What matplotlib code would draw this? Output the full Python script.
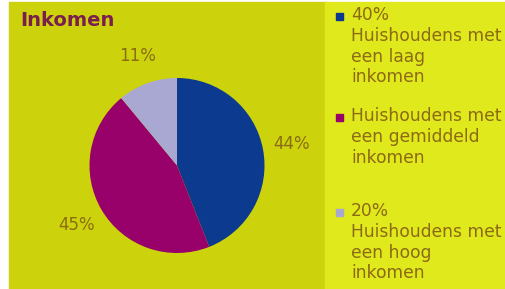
import matplotlib
matplotlib.use("Agg")
import matplotlib.pyplot as plt
from matplotlib.patches import Rectangle

# data
shares = [44, 45, 11]
colors = ["#0b3a8e", "#98006a", "#a9a8d2"]
legend_labels = [
    "40%\nHuishoudens met\neen laag\ninkomen",
    "Huishoudens met\neen gemiddeld\ninkomen",
    "20%\nHuishoudens met\neen hoog\ninkomen",
]
title = "Inkomen"

W, H = 506, 289
fig = plt.figure(figsize=(W / 100, H / 100), dpi=100)
fig.patch.set_facecolor("white")

# whole-figure axes in pixel units
ax = fig.add_axes([0, 0, 1, 1])
ax.add_patch(Rectangle((9, 0), 318, H - 2, color="#ccd30c", zorder=0))
ax.add_patch(Rectangle((325, 0), W - 325, H - 2, color="#e0e91c", zorder=0))

cx, cy, r = 177, H - 165.5, 87.5
wedges, texts, autotexts = ax.pie(
    shares, colors=colors, startangle=90, counterclock=False,
    center=(cx, cy), radius=r, autopct="%1.0f%%", pctdistance=1.33,
    wedgeprops=dict(linewidth=0),
    textprops=dict(color="#8a6c12", fontsize=12),
)
ax.set_xlim(0, W)
ax.set_ylim(0, H)
ax.set_aspect("auto")
ax.axis("off")

ax.text(20, H - 21, title, fontsize=14, fontweight="bold",
        color="#7a1f4c", va="center", ha="left")

# legend drawn by hand: marker beside the first line of each entry
entry_y = [16, 117, 212]
for lab, col, y in zip(legend_labels, colors, entry_y):
    ax.add_patch(Rectangle((336, H - y - 3.5), 7, 7, color=col, zorder=3))
    ax.text(351, H - y + 10, lab, fontsize=12.3, color="#8c6a14",
            va="top", ha="left", linespacing=1.2)

fig.savefig("out.png", dpi=100)
